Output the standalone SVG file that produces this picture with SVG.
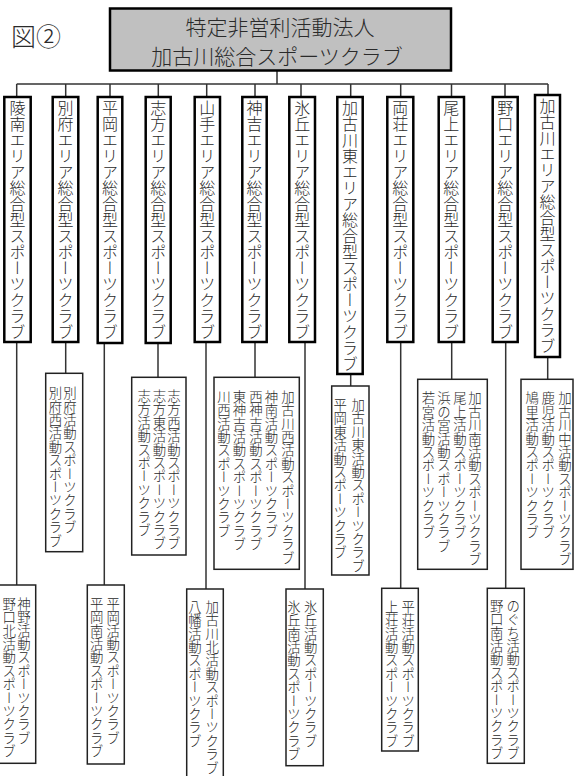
<svg xmlns="http://www.w3.org/2000/svg" width="574" height="776" viewBox="0 0 574 776">
<style>
text{font-family:"Noto Sans CJK JP","Noto Sans CJK SC",sans-serif;fill:#2a2a2a;font-weight:300}
.v{writing-mode:vertical-rl;dominant-baseline:central}
.m{font-size:16px}
.s{font-size:13.4px}
.mb{fill:#fff;stroke:#000;stroke-width:2.5}
.sb{fill:#fff;stroke:#222;stroke-width:1.5}
.hd{fill:#c0c0c0;stroke:#000;stroke-width:2.5}
.c{fill:none;stroke:#333;stroke-width:1.5}
</style>
<rect width="574" height="776" fill="#fff"/>
<text x="11" y="46" font-size="25">図②</text>
<g id="connectors" class="c">
<path d="M277,71V84M16.7,84H548"/>
<path d="M16.7,84V97M65.7,84V97M110,84V97M158.3,84V97M206.7,84V97M255,84V97M301,84V97M350.7,84V97M400.7,84V97M451.5,84V97M505,84V97M548,84V95"/>
<path d="M16.7,342V585M65.7,342V373.3M104.3,343V585M158,343V377.3M206,342V589M255,342V377.3M305,342V589M350.7,374V386M400.7,342V588.3M451.7,342V379.3M505.7,342V588.3M547.7,357V379.3"/>
</g>
<g id="header">
<rect class="hd" x="110" y="8.5" width="341" height="62"/>
<text x="280" y="35" font-size="21" text-anchor="middle">特定非営利活動法人</text>
<text x="277" y="64" font-size="21" text-anchor="middle">加古川総合スポーツクラブ</text>
</g>
<g id="c1"><rect class="mb" x="4.3" y="97" width="26.4" height="245"/><text class="v m" x="17.5" y="99.5">陵南エリア総合型スポーツクラブ</text></g>
<g id="c2"><rect class="mb" x="52.7" y="97" width="25.6" height="245"/><text class="v m" x="65.5" y="99.5">別府エリア総合型スポーツクラブ</text></g>
<g id="c3"><rect class="mb" x="97.7" y="97" width="24.6" height="246"/><text class="v m" x="110" y="99.5">平岡エリア総合型スポーツクラブ</text></g>
<g id="c4"><rect class="mb" x="145.7" y="97" width="25" height="246"/><text class="v m" x="158.2" y="99.5">志方エリア総合型スポーツクラブ</text></g>
<g id="c5"><rect class="mb" x="194.7" y="97" width="25.3" height="245"/><text class="v m" x="207.3" y="99.5">山手エリア総合型スポーツクラブ</text></g>
<g id="c6"><rect class="mb" x="242.3" y="97" width="24.4" height="245"/><text class="v m" x="254.5" y="99.5">神吉エリア総合型スポーツクラブ</text></g>
<g id="c7"><rect class="mb" x="289.3" y="97" width="25.7" height="245"/><text class="v m" x="302.2" y="99.5">氷丘エリア総合型スポーツクラブ</text></g>
<g id="c8"><rect class="mb" x="337.3" y="97" width="25.4" height="277"/><text class="v m" x="350" y="99.5">加古川東エリア総合型スポーツクラブ</text></g>
<g id="c9"><rect class="mb" x="387.3" y="97" width="26" height="245"/><text class="v m" x="400.3" y="99.5">両荘エリア総合型スポーツクラブ</text></g>
<g id="c10"><rect class="mb" x="438.7" y="97" width="25.3" height="245"/><text class="v m" x="451.3" y="99.5">尾上エリア総合型スポーツクラブ</text></g>
<g id="c11"><rect class="mb" x="492.7" y="97" width="25" height="245"/><text class="v m" x="505.2" y="99.5">野口エリア総合型スポーツクラブ</text></g>
<g id="c12"><rect class="mb" x="535" y="95" width="25" height="262"/><text class="v m" x="547.5" y="98">加古川エリア総合型スポーツクラブ</text></g>
<g id="s2"><rect class="sb" x="45.7" y="373.3" width="37" height="178.4"/>
<text class="v s" x="70" y="386.5">別府活動スポーツクラブ</text>
<text class="v s" x="55.5" y="386.5">別府西活動スポーツクラブ</text></g>
<g id="s4"><rect class="sb" x="131.7" y="377.3" width="54.3" height="177.7"/>
<text class="v s" x="174" y="389.3">志方西活動スポーツクラブ</text>
<text class="v s" x="159.5" y="389.3">志方東活動スポーツクラブ</text>
<text class="v s" x="144.2" y="389.3">志方活動スポーツクラブ</text></g>
<g id="s6"><rect class="sb" x="214" y="377.3" width="85.3" height="192"/>
<text class="v s" x="288" y="390">加古川西活動スポーツクラブ</text>
<text class="v s" x="271.5" y="390">神南活動スポーツクラブ</text>
<text class="v s" x="256" y="390">西神吉活動スポーツクラブ</text>
<text class="v s" x="239.5" y="390">東神吉活動スポーツクラブ</text>
<text class="v s" x="224" y="390">川西活動スポーツクラブ</text></g>
<g id="s8"><rect class="sb" x="331.7" y="386" width="37.3" height="189"/>
<text class="v s" x="358.3" y="398.3">加古川東活動スポーツクラブ</text>
<text class="v s" x="340.2" y="398.3">平岡東活動スポーツクラブ</text></g>
<g id="s10"><rect class="sb" x="417.7" y="379.3" width="69.6" height="190"/>
<text class="v s" x="475" y="391.7">加古川南活動スポーツクラブ</text>
<text class="v s" x="460" y="391.7">尾上活動スポーツクラブ</text>
<text class="v s" x="444" y="391.7">浜の宮活動スポーツクラブ</text>
<text class="v s" x="428.5" y="391.7">若宮活動スポーツクラブ</text></g>
<g id="s12"><rect class="sb" x="521" y="379.3" width="52" height="190"/>
<text class="v s" x="565" y="391.7">加古川中活動スポーツクラブ</text>
<text class="v s" x="548.3" y="391.7">鹿児活動スポーツクラブ</text>
<text class="v s" x="532.3" y="391.7">鳩里活動スポーツクラブ</text></g>
<g id="l1"><rect class="sb" x="-1" y="585" width="36.7" height="178.3"/>
<text class="v s" x="24" y="597">神野活動スポーツクラブ</text>
<text class="v s" x="9.2" y="597">野口北活動スポーツクラブ</text></g>
<g id="l3"><rect class="sb" x="87.3" y="585" width="37" height="179"/>
<text class="v s" x="113.3" y="597">平岡活動スポーツクラブ</text>
<text class="v s" x="96.7" y="597">平岡南活動スポーツクラブ</text></g>
<g id="l5"><rect class="sb" x="186.7" y="589" width="36.6" height="200"/>
<text class="v s" x="212.3" y="600">加古川北活動スポーツクラブ</text>
<text class="v s" x="195" y="600">八幡活動スポーツクラブ</text></g>
<g id="l7"><rect class="sb" x="286" y="589" width="37.3" height="176.7"/>
<text class="v s" x="310.7" y="600">氷丘活動スポーツクラブ</text>
<text class="v s" x="294" y="600">氷丘南活動スポーツクラブ</text></g>
<g id="l9"><rect class="sb" x="381.7" y="588.3" width="36.6" height="162.7"/>
<text class="v s" x="408.3" y="600">平荘活動スポーツクラブ</text>
<text class="v s" x="391.7" y="600">上荘活動スポーツクラブ</text></g>
<g id="l11"><rect class="sb" x="487.3" y="588.3" width="37" height="175"/>
<text class="v s" x="513.3" y="599">のぐち活動スポーツクラブ</text>
<text class="v s" x="496.7" y="599">野口南活動スポーツクラブ</text></g>
</svg>
